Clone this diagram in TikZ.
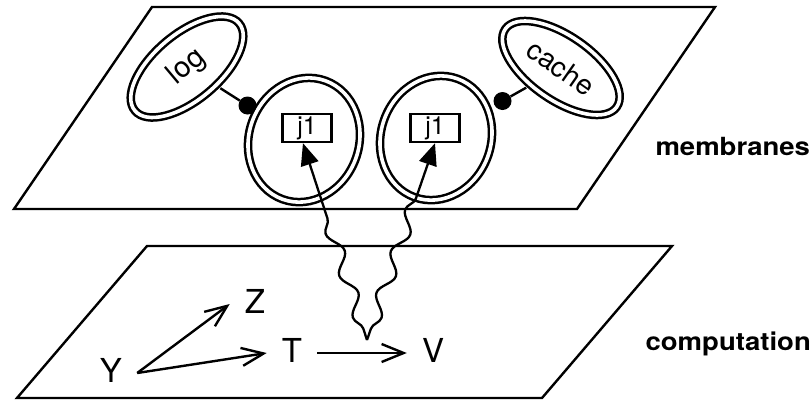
\documentclass[tikz,border=0pt]{standalone}
\usepackage{fontspec}
\setmainfont{TeX Gyre Heros}
\usetikzlibrary{shapes.geometric,arrows.meta,decorations.pathmorphing,calc}
\begin{document}
\begin{tikzpicture}[x=1pt,y=-1pt,
  plane/.style={line width=2.4pt,line join=miter},
  memb/.style={ellipse,draw,double,double distance=3.6pt,line width=2.5pt,inner sep=0pt},
  jobbox/.style={draw,line width=2.3pt,minimum width=49pt,minimum height=28pt,inner sep=0pt,font=\fontsize{25}{25}\selectfont},
  dot/.style={circle,fill,inner sep=0pt,minimum size=18pt},
  var/.style={inner xsep=15pt,inner ysep=0pt,text height=24pt,text depth=6pt,font=\fontsize{33}{33}\selectfont},
  flow/.style={line width=2.4pt,-{Straight Barb[length=22pt,width=18pt]}},
  wire/.style={line width=2.4pt},
  boot/.style={line width=2.3pt,-{Triangle[length=22pt,width=18pt]},decorate,
    decoration={snake,amplitude=6.5pt,segment length=44pt,pre length=12pt,post length=58pt}},
  lbl/.style={anchor=base west,font=\bfseries\fontsize{25}{25}\selectfont}
]
\useasboundingbox (0,0) rectangle (810,400);
% planes
\draw[plane] (152,7) -- (715,7) -- (577,209) -- (14,209) -- cycle;
\draw[plane] (147,246) -- (672,246) -- (542,398) -- (17,398) -- cycle;
% membranes
\node[memb,rotate=40,minimum width=136pt,minimum height=66pt,font=\fontsize{29}{29}\selectfont] (log) at (187,67) {log};
\node[memb,rotate=-35,minimum width=136pt,minimum height=64pt,font=\fontsize{28}{28}\selectfont] (cache) at (561,68) {cache};
\node[memb,rotate=-20,minimum width=110pt,minimum height=126pt] (m1) at (304,140) {};
\node[memb,rotate=-20,minimum width=110pt,minimum height=126pt] (m2) at (436,138) {};
\node[jobbox] (j1a) at (307,128) {j1};
\node[jobbox] (j1b) at (435,128) {j1};
\node[dot] (d1) at (247.5,105.5) {};
\node[dot] (d2) at (502.5,101) {};
\draw[wire,shorten >=4pt] (d1) -- (log);
\draw[wire,shorten >=4pt] (d2) -- (cache);
% computation
\node[var] (Y) at (111,373) {Y};
\node[var] (Z) at (255,304) {Z};
\node[var] (T) at (292,353) {T};
\node[var] (V) at (433,353) {V};
\draw[flow] (Y.east) -- (Z.west);
\draw[flow] (Y.east) -- (T.west);
\draw[flow] (T.east) -- (V.west);
\coordinate (src) at (367,340);
\draw[boot] (src) -- (j1a.-105);
\draw[boot,decoration={mirror}] (src) -- (j1b.south);
% labels
\node[lbl] (lm) at (652,155) {\scalebox{1.1}[1]{membranes}};
\node[lbl] (lc) at (642,350) {\scalebox{1.1}[1]{computation}};
\end{tikzpicture}
\end{document}
